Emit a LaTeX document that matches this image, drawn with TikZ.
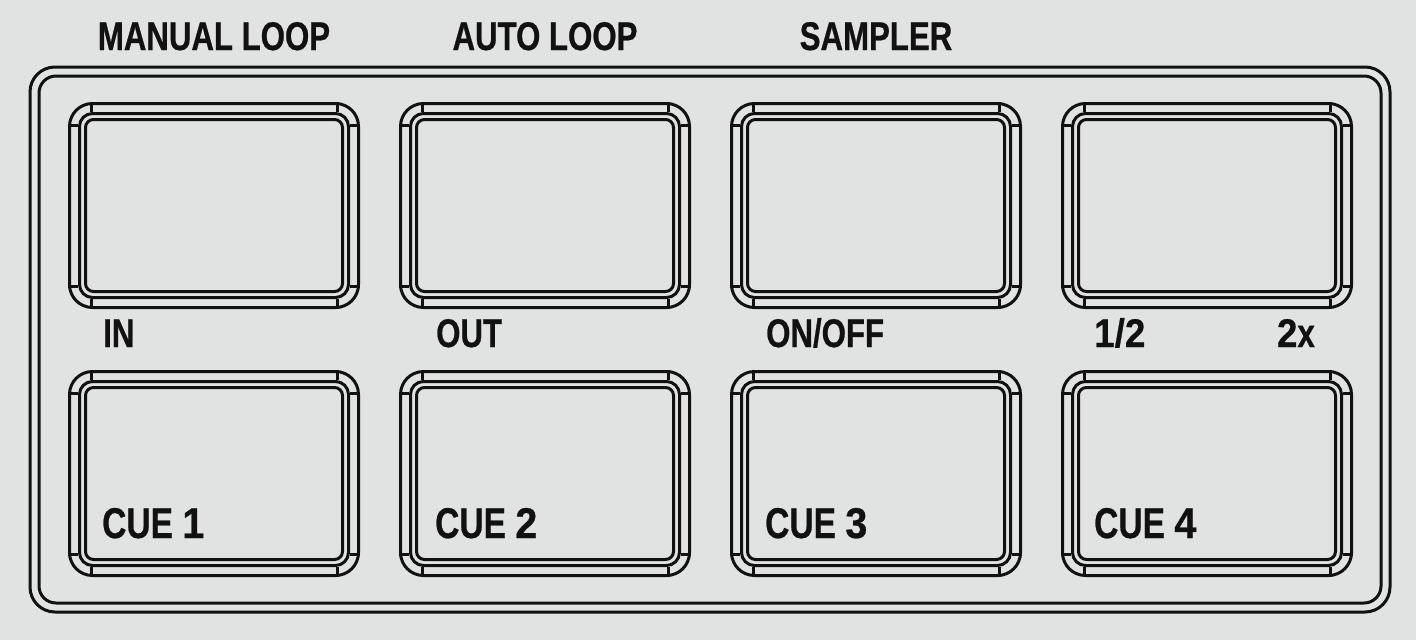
\documentclass[tikz,border=0pt]{standalone}
\usepackage{fontspec}
\newfontfamily\padfont{Liberation Sans}[FakeStretch=0.78, FakeBold=0.6]
\newfontfamily\padnum{Liberation Sans}[FakeStretch=0.92, FakeBold=0.6]
\definecolor{panelbg}{RGB}{225,227,226}
\definecolor{ink}{RGB}{17,17,17}
\tikzset{
  padline/.style={draw=ink, line width=3pt},
  padlbl/.style={font=\padfont\bfseries\fontsize{40}{40}\selectfont, text=ink, inner sep=0pt},
  cuelbl/.style={padlbl, font=\padfont\bfseries\fontsize{43}{43}\selectfont},
  pad/.pic={
    \node[padline, minimum width=289pt, minimum height=204pt, rounded corners=23pt, inner sep=0pt] (-o) {};
    \node[padline, minimum width=269pt, minimum height=184pt, rounded corners=13pt, inner sep=0pt] (-m) at (-o) {};
    \node[padline, minimum width=257pt, minimum height=172pt, rounded corners=8pt, inner sep=0pt] (-i) at (-o) {};
    \draw[padline]
      ([xshift=23pt]-o.north west) -- ++(0,10) ([xshift=-23pt]-o.north east) -- ++(0,10)
      ([xshift=23pt]-o.south west) -- ++(0,-10) ([xshift=-23pt]-o.south east) -- ++(0,-10)
      ([yshift=-23pt]-o.north west) -- ++(10,0) ([yshift=23pt]-o.south west) -- ++(10,0)
      ([yshift=-23pt]-o.north east) -- ++(-10,0) ([yshift=23pt]-o.south east) -- ++(-10,0);
  }
}
\begin{document}
\begin{tikzpicture}[x=1pt, y=-1pt]
  \fill[panelbg] (0,0) rectangle (1416,640);
  \useasboundingbox (0,0) rectangle (1416,640);
  \draw[padline, rounded corners=25pt] (30,67) rectangle (1390,612);
  \draw[padline, rounded corners=17pt] (39,76) rectangle (1381,603);
  \pic (p1) at (214,205.5) {pad};
  \pic (p2) at (545,205.5) {pad};
  \pic (p3) at (876,205.5) {pad};
  \pic (p4) at (1207,205.5) {pad};
  \pic (p5) at (214,473.5) {pad};
  \pic (p6) at (545,473.5) {pad};
  \pic (p7) at (876,473.5) {pad};
  \pic (p8) at (1207,473.5) {pad};
  \node[padlbl, anchor=base] (manual) at (214,50) {MANUAL LOOP};
  \node[padlbl, anchor=base] (auto) at (545,50) {AUTO LOOP};
  \node[padlbl, anchor=base] (sampler) at (876,50) {SAMPLER};
  \node[padlbl, anchor=base west] (in) at (103,347) {IN};
  \node[padlbl, anchor=base west] (out) at (436,347) {OUT};
  \node[padlbl, anchor=base west] (onoff) at (766,347) {ON/OFF};
  \node[padlbl, anchor=base west] (half) at (1094,347) {\padnum 1/2};
  \node[padlbl, anchor=base east] (double) at (1315,347) {{\padnum 2}x};
  \node[cuelbl, anchor=base west] (cue1) at (102,538) {CUE {\padnum 1}};
  \node[cuelbl, anchor=base west] (cue2) at (435,538) {CUE {\padnum 2}};
  \node[cuelbl, anchor=base west] (cue3) at (765,538) {CUE {\padnum 3}};
  \node[cuelbl, anchor=base west] (cue4) at (1094,538) {CUE {\padnum 4}};
\end{tikzpicture}
\end{document}
